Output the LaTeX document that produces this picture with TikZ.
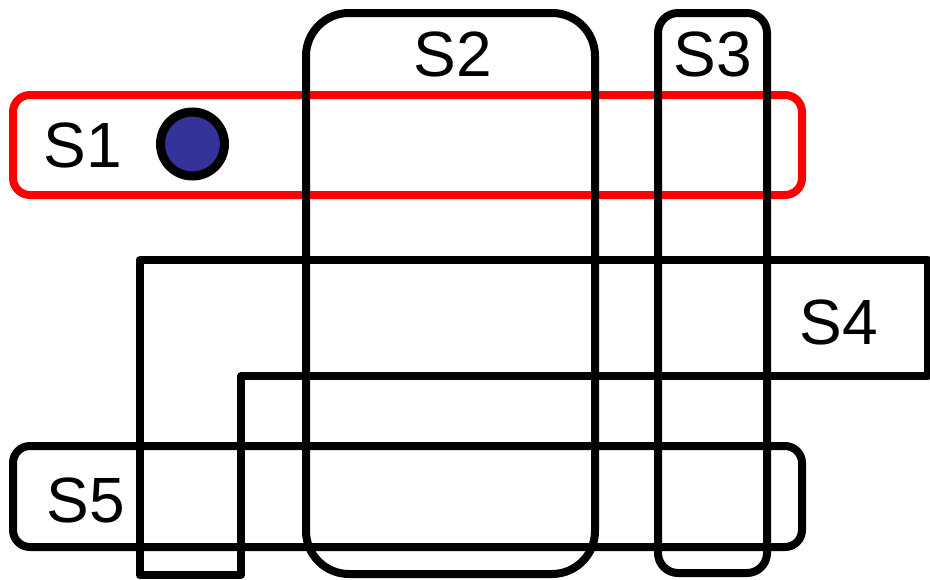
\documentclass[tikz,border=0pt]{standalone}
\usepackage{fontspec}
\setmainfont{Liberation Sans}
\definecolor{dotblue}{HTML}{333399}
\begin{document}
\begin{tikzpicture}[x=1pt, y=-1pt, font=\fontsize{64}{70}\selectfont,
        setline/.style={line width=8pt, line join=round},
        setlabel/.style={inner sep=0pt}]
        \useasboundingbox (0,0) rectangle (930,579);

        \draw[setline, red, rounded corners=17pt] (13,95) rectangle (802,195);

        \draw[setline, rounded corners=43pt] (306,13) rectangle (595,574);
        \draw[setline, rounded corners=20pt] (658,13) rectangle (767,573);
        \draw[setline] (139.5,575) -- (139.5,260) -- (928,260) -- (928,376) -- (241,376) -- (241,575) -- cycle;
        \draw[setline, rounded corners=17pt] (13,446) rectangle (802,547);

        \node[circle, draw, line width=9pt, fill=dotblue, minimum size=64pt, inner sep=0pt] (dot) at (192.5,144) {};

        \node[setlabel] (s1) at (83,145) {S1};
        \node[setlabel] (s2) at (453,54) {S2};
        \node[setlabel] (s3) at (713,54) {S3};
        \node[setlabel] (s4) at (839,322) {S4};
        \node[setlabel] (s5) at (86,500) {S5};
    \end{tikzpicture}
\end{document}
